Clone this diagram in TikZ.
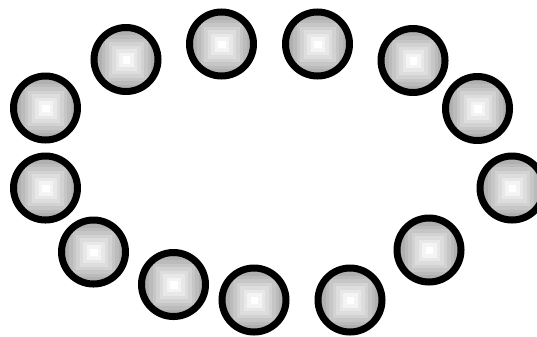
\documentclass[tikz,border=0pt]{standalone}
\pgfdeclarefunctionalshading{sqshade}{\pgfpoint{-50bp}{-50bp}}{\pgfpoint{50bp}{50bp}}{}{
abs exch abs 2 copy lt {exch} if pop 25 div 9 mul floor 9 div dup 1 gt {pop 1} if 0.40 mul neg 1 add dup dup}
\tikzset{ball/.style={circle, draw=black, line width=7bp, minimum size=64bp, inner sep=0pt, shading=sqshade}}
\begin{document}
\begin{tikzpicture}[x=1bp,y=-1bp]
\useasboundingbox (0,0) rectangle (537,336);
\node[ball] (c1) at (126,59.5) {};
\node[ball] (c2) at (221.5,44) {};
\node[ball] (c3) at (317.5,44) {};
\node[ball] (c4) at (413,60.5) {};
\node[ball] (c5) at (477.5,108.5) {};
\node[ball] (c6) at (512,188) {};
\node[ball] (c7) at (429,250) {};
\node[ball] (c8) at (350,300) {};
\node[ball] (c9) at (254,300) {};
\node[ball] (c10) at (173.5,284.5) {};
\node[ball] (c11) at (93.5,252) {};
\node[ball] (c12) at (45.5,188) {};
\node[ball] (c13) at (45.5,108) {};
\end{tikzpicture}
\end{document}
